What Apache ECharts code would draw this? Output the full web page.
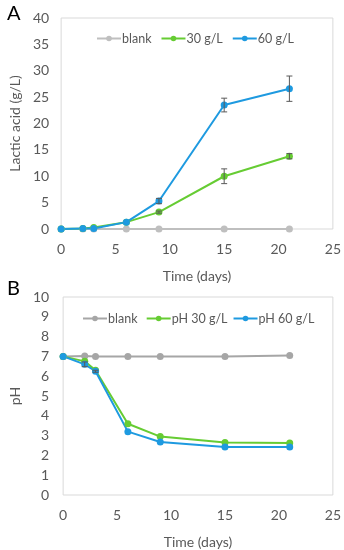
<!DOCTYPE html>
<html><head><meta charset="utf-8">
<script src="https://cdn.jsdelivr.net/npm/echarts@6/dist/echarts.min.js"></script>
<style>html,body{margin:0;padding:0;background:#fff}#c{width:344px;height:550px}</style>
</head><body><div id="c"></div>
<script>
// Data
const days = [0, 2, 3, 6, 9, 15, 21];
const lacticBlank = [0, 0, 0, 0, 0, 0, 0];
const lactic30 = [0, 0.1, 0.3, 1.3, 3.2, 10.0, 13.8];
const lactic30Err = [0, 0, 0, 0, 0.2, 1.4, 0.5];
const lactic60 = [0, 0.1, 0.1, 1.3, 5.3, 23.5, 26.6];
const lactic60Err = [0, 0, 0, 0, 0.5, 1.3, 2.4];
const phBlank = [7.0, 7.02, 7.0, 7.0, 7.0, 7.0, 7.05];
const ph30 = [7.0, 6.75, 6.3, 3.6, 2.95, 2.65, 2.62];
const ph60 = [7.0, 6.6, 6.25, 3.2, 2.68, 2.42, 2.42];
const ph60Err = [0, 0.12, 0.05, 0, 0, 0, 0];
const xTicks = [0, 5, 10, 15, 20, 25];

const gray = '#bfbfbf', green = '#66cc33', blue = '#1e9ae0', txt = '#595959';
const FONT = 'Lato';
const FS = 14;

function pairs(v){ return days.map((d,i)=>[d, v[i]]); }
function errData(v, e){ return days.map((d,i)=>[d, v[i]-e[i], v[i]+e[i]]).filter((r,i)=>e[i]>0); }
function errSeries(xi, yi, data){
  return {
    type:'custom', xAxisIndex:xi, yAxisIndex:yi, data:data, z:5, silent:true,
    renderItem:function(params, api){
      const x = api.value(0);
      const p1 = api.coord([x, api.value(1)]);
      const p2 = api.coord([x, api.value(2)]);
      const w = 3;
      const st = {stroke:'#595959', lineWidth:1};
      return {type:'group', children:[
        {type:'line', shape:{x1:p1[0], y1:p1[1], x2:p2[0], y2:p2[1]}, style:st},
        {type:'line', shape:{x1:p1[0]-w, y1:p1[1], x2:p1[0]+w, y2:p1[1]}, style:st},
        {type:'line', shape:{x1:p2[0]-w, y1:p2[1], x2:p2[0]+w, y2:p2[1]}, style:st}
      ]};
    }
  };
}
function lineS(name, xi, yi, data, color){
  return {name:name, type:'line', xAxisIndex:xi, yAxisIndex:yi, data:pairs(data),
    symbol:'circle', symbolSize:7, showSymbol:true,
    lineStyle:{color:color, width:2}, itemStyle:{color:color}, z:3};
}
const axisLabel = {color:txt, fontFamily:FONT, fontSize:FS};
function xAxis(gi){
  return {type:'value', gridIndex:gi, min:0, max:25, interval:5,
    name:'Time (days)', nameLocation:'middle', nameGap:40,
    nameTextStyle:{color:txt, fontFamily:FONT, fontSize:FS},
    axisLine:{show:false}, axisTick:{show:false}, splitLine:{show:false},
    axisLabel:Object.assign({margin:13}, axisLabel)};
}
const legendText = {color:txt, fontFamily:FONT, fontSize:12.5, padding:[0,0,0,-4]};
const chart = echarts.init(document.getElementById('c'), null, {renderer:'canvas'});
chart.setOption({
  animation:false,
  backgroundColor:'#fff',
  textStyle:{fontFamily:FONT},
  title:[
    {text:'A', left:2, top:-1, textStyle:{fontFamily:FONT, fontSize:20, fontWeight:'normal', color:'#000'}},
    {text:'B', left:2, top:274, textStyle:{fontFamily:FONT, fontSize:20, fontWeight:'normal', color:'#000'}}
  ],
  grid:[
    {left:54, top:18, width:279, height:211, show:true, borderColor:'#d9d9d9', borderWidth:1, backgroundColor:'#fff'},
    {left:58, top:297, width:275, height:202, show:true, borderColor:'#d9d9d9', borderWidth:1, backgroundColor:'#fff'}
  ],
  legend:[
    {data:['blank','30 g/L','60 g/L'], top:27, left:91, width:250, itemWidth:24, itemHeight:7, itemGap:9,
     textStyle:legendText},
    {data:['blank ','pH 30 g/L','pH 60 g/L'], top:307, left:77, width:265, itemWidth:24, itemHeight:7, itemGap:5,
     textStyle:legendText}
  ],
  xAxis:[xAxis(0), xAxis(1)],
  yAxis:[
    {type:'value', gridIndex:0, min:0, max:40, interval:5, name:'Lactic acid (g/L)', nameLocation:'middle', nameGap:38,
     nameTextStyle:{color:txt, fontFamily:FONT, fontSize:FS},
     axisLine:{show:false}, axisTick:{show:false}, splitLine:{show:false}, axisLabel:Object.assign({margin:12}, axisLabel)},
    {type:'value', gridIndex:1, min:0, max:10, interval:1, name:'pH', nameLocation:'middle', nameGap:34,
     nameTextStyle:{color:txt, fontFamily:FONT, fontSize:FS},
     axisLine:{show:false}, axisTick:{show:false}, splitLine:{show:false}, axisLabel:Object.assign({margin:14}, axisLabel)}
  ],
  series:[
    lineS('blank',0,0,lacticBlank,gray),
    lineS('30 g/L',0,0,lactic30,green),
    lineS('60 g/L',0,0,lactic60,blue),
    errSeries(0,0,errData(lactic30,lactic30Err)),
    errSeries(0,0,errData(lactic60,lactic60Err)),
    lineS('blank ',1,1,phBlank,'#a6a6a6'),
    lineS('pH 30 g/L',1,1,ph30,green),
    lineS('pH 60 g/L',1,1,ph60,blue),
    errSeries(1,1,errData(ph60,ph60Err))
  ]
});
</script></body></html>
